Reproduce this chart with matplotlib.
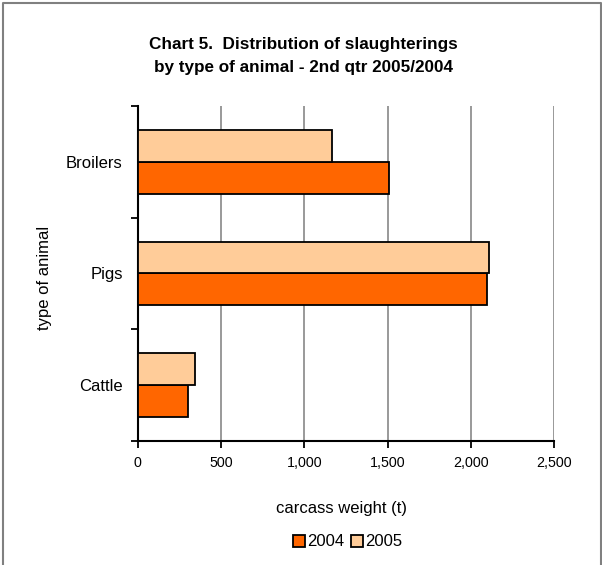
import matplotlib
matplotlib.use("Agg")
import matplotlib.pyplot as plt
import numpy as np
from matplotlib.lines import Line2D

plt.rcParams['font.family'] = ['Liberation Sans', 'DejaVu Sans']

categories = ["Cattle", "Pigs", "Broilers"]
values_2004 = [302, 2094, 1508]
values_2005 = [346, 2106, 1168]
series_names = ["2004", "2005"]
x_ticks = [0, 500, 1000, 1500, 2000, 2500]
x_tick_labels = ["0", "500", "1,000", "1,500", "2,000", "2,500"]

c2004 = "#FF6600"
c2005 = "#FFCC99"

fig = plt.figure(figsize=(6.02, 5.65), dpi=100)
ax = fig.add_axes([137.7/602, 1-440.7/565, (554.3-137.7)/602, (440.7-106)/565])

y = np.arange(len(categories))
h = 0.285
ax.barh(y - h/2, values_2004, height=h, color=c2004, edgecolor="black", linewidth=1.3, label=series_names[0], zorder=3)
ax.barh(y + h/2, values_2005, height=h, color=c2005, edgecolor="black", linewidth=1.3, label=series_names[1], zorder=3)

ax.set_xlim(0, 2500)
ax.set_ylim(-0.5, 2.5)
ax.set_xticks(x_ticks)
ax.set_xticklabels(x_tick_labels, fontsize=10.3)
ax.xaxis.grid(True, color="#999999", linewidth=1.4, zorder=0)
ax.set_axisbelow(True)

ax.set_yticks([-0.5, 0.5, 1.5, 2.5])
ax.set_yticklabels([])
ax.set_yticks(y, minor=True)
ax.set_yticklabels(categories, minor=True, fontsize=12)
ax.tick_params(axis="y", which="major", length=5, width=1.3, direction="out")
ax.tick_params(axis="y", which="minor", length=0, pad=10.8)
ax.tick_params(axis="x", which="major", length=5, width=1.3, direction="out", pad=6)

for s in ["top", "right"]:
    ax.spines[s].set_visible(False)
for s in ["left", "bottom"]:
    ax.spines[s].set_linewidth(1.5)
    ax.spines[s].set_color("black")

fig.text(44/602, 1-278/565, "type of animal", rotation=90, ha="center", va="center", fontsize=12)

fig.text(303/602, 1-56/565, "Chart 5.  Distribution of slaughterings\nby type of animal - 2nd qtr 2005/2004",
         ha="center", va="center", fontsize=12.3, fontweight="bold", linespacing=1.6)

fig.text(342/602, 1-508/565, "carcass weight (t)", ha="center", va="center", fontsize=12)

leg = fig.legend(loc="center", bbox_to_anchor=(348/602, 1-542/565), ncol=2, frameon=False,
                 fontsize=12, handlelength=0.7, handleheight=0.7, handletextpad=0.15,
                 columnspacing=0.4, borderpad=0, borderaxespad=0)

# figure border (left, top, right)
bx = [2.5/602, 2.5/602, 600.5/602, 600.5/602]
by = [0.0, 1-2.5/565, 1-2.5/565, 0.0]
fig.add_artist(Line2D(bx, by, transform=fig.transFigure, color="#808080", linewidth=1.5))

fig.savefig("out.png", dpi=100)
